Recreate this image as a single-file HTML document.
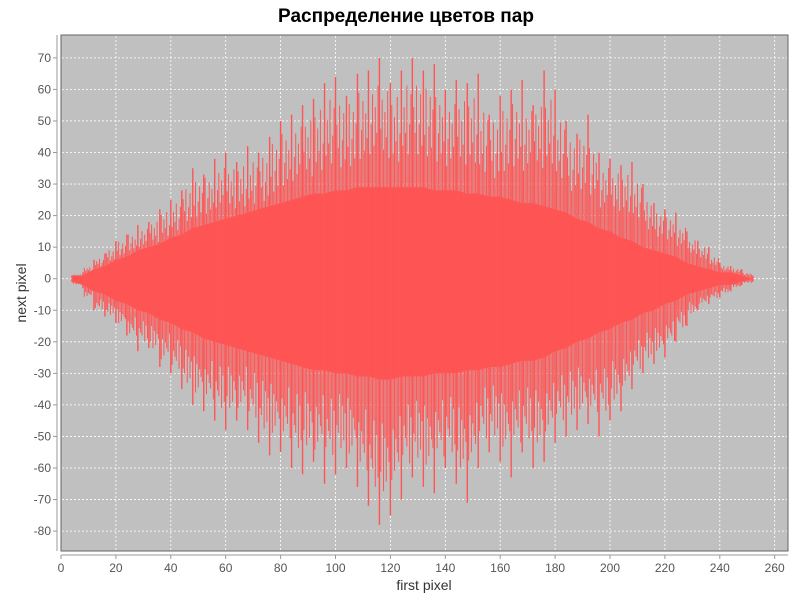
<!DOCTYPE html>
<html><head><meta charset="utf-8"><style>
body{margin:0;background:#fff;width:800px;height:600px;overflow:hidden}
svg text{font-family:"Liberation Sans","DejaVu Sans",sans-serif}
</style></head><body>
<svg id="chart" width="800" height="600">
<text x="406" y="22" text-anchor="middle" font-size="19" font-weight="bold" fill="#000">Распределение цветов пар</text>
<rect x="61" y="35" width="727" height="516" fill="#c0c0c0" stroke="#666" stroke-width="1"/>
<g id="grid"></g><g id="marks"></g><g id="axes"></g>
<text x="424" y="590" text-anchor="middle" font-size="14" fill="#333">first pixel</text>
<text transform="translate(26,293) rotate(-90)" text-anchor="middle" font-size="14" fill="#333">next pixel</text>
</svg>
<script>
const xCats=[4,8,12,16,20,24,28,32,36,40,44,48,52,56,60,64,68,72,76,80,84,88,92,96,100,104,108,112,116,120,124,128,132,136,140,144,148,152,156,160,164,168,172,176,180,184,188,192,196,200,204,208,212,216,220,224,228,232,236,240,244,248,252];
const maxVals=[1,2,6,8,12,14,17,18,22,25,28,35,33,38,40,37,42,40,45,50,52,55,57,62,64,58,65,66,70,62,66,70,66,68,60,63,62,65,52,58,60,63,55,66,60,50,46,52,40,38,36,37,30,24,22,21,15,12,10,5,4,3,1];
const minVals=[-1,-3,-10,-12,-14,-18,-23,-22,-28,-30,-35,-40,-42,-45,-48,-45,-48,-52,-56,-55,-60,-62,-58,-65,-62,-60,-66,-72,-78,-75,-70,-63,-66,-68,-60,-65,-71,-60,-55,-58,-63,-55,-60,-58,-52,-50,-48,-46,-50,-45,-42,-35,-30,-27,-25,-20,-15,-10,-8,-6,-4,-2,-1];
const coreHi=[1,1,3,4,6,7,9,10,11,13,14,16,17,18,19,20,21,22,23,24,25,26,27,27,28,28,29,29,29,29,29,29,29,28,28,28,27,27,26,26,25,24,24,23,22,21,19,18,16,15,13,12,10,9,8,7,5,4,3,2,2,1,0];
const coreLo=[-1,-2,-4,-5,-7,-8,-10,-11,-13,-14,-16,-17,-19,-20,-21,-22,-23,-24,-25,-26,-27,-28,-29,-29,-30,-30,-31,-31,-32,-32,-31,-31,-31,-30,-30,-30,-29,-29,-28,-28,-27,-26,-26,-25,-23,-22,-20,-19,-17,-16,-14,-13,-11,-10,-8,-7,-5,-4,-3,-2,-2,-1,0];
const xTicks=[0,20,40,60,80,100,120,140,160,180,200,220,240,260];
const yTicks=[70,60,50,40,30,20,10,0,-10,-20,-30,-40,-50,-60,-70,-80];
const sx=v=>61+v*2.745, sy=v=>278.7-v*3.155;
const NS="http://www.w3.org/2000/svg";
function mk(tag,attrs,parent){const e=document.createElementNS(NS,tag);for(const k in attrs)e.setAttribute(k,attrs[k]);parent.appendChild(e);return e;}
const grid=document.getElementById('grid'),marks=document.getElementById('marks'),axes=document.getElementById('axes');
xTicks.forEach(t=>{
 if(t>0&&t<=260){const g=mk('line',{x1:sx(t),x2:sx(t),y1:36,y2:550,stroke:'#fff','stroke-width':0.8,'stroke-dasharray':'2,2'},grid);
 
 }
 const tk=mk('line',{x1:sx(t),x2:sx(t),y1:555,y2:559,stroke:'#999'},axes);
 
 
 const lb=mk('text',{x:sx(t),y:572,'text-anchor':'middle','font-size':12,fill:'#555'},axes);lb.textContent=t;
 
 
});
yTicks.forEach(t=>{
 const g=mk('line',{x1:62,x2:787,y1:sy(t),y2:sy(t),stroke:'#fff','stroke-width':0.8,'stroke-dasharray':'2,2'},grid);
 
 
 const tk=mk('line',{x1:53,x2:57,y1:sy(t),y2:sy(t),stroke:'#999'},axes);
 
 
 const lb=mk('text',{x:51,y:sy(t)+4,'text-anchor':'end','font-size':12,fill:'#555'},axes);lb.textContent=t;
 
 
});
const xa=mk('line',{x1:61,x2:788,y1:555,y2:555,stroke:'#999'},axes);


const ya=mk('line',{x1:57,x2:57,y1:35,y2:551,stroke:'#999'},axes);


let pts=xCats.map((x,i)=>sx(x)+','+sy(coreHi[i]));
for(let i=xCats.length-1;i>=0;i--)pts.push(sx(xCats[i])+','+sy(coreLo[i]));
const core=mk('polygon',{points:pts.join(' '),fill:'#ff5555'},marks);


const subFactorsHi=[0.72,0.86,0.62,0.8,0.68,0.9,0.58];
const subFactorsLo=[0.8,0.6,0.88,0.66,0.84,0.7,0.76];
xCats.forEach((x,i)=>{
 const ln=mk('line',{x1:sx(x),x2:sx(x),y1:sy(maxVals[i]),y2:sy(minVals[i]),stroke:'#ff5555','stroke-width':1.4},marks);
 
 
 if(i<xCats.length-1){
  const hiB=(maxVals[i]+maxVals[i+1])/2, loB=(minVals[i]+minVals[i+1])/2;
  for(let k=0;k<7;k++){
   const mx=x+(k+1)*0.5;
   const fh=subFactorsHi[(k+i)%7], fl=subFactorsLo[(k+2*i)%7];
   const l2=mk('line',{x1:sx(mx),x2:sx(mx),y1:sy(hiB*fh),y2:sy(loB*fl),stroke:'#ff5555','stroke-width':1},marks);
   
   
  }
 }
});
</script>
</body></html>
